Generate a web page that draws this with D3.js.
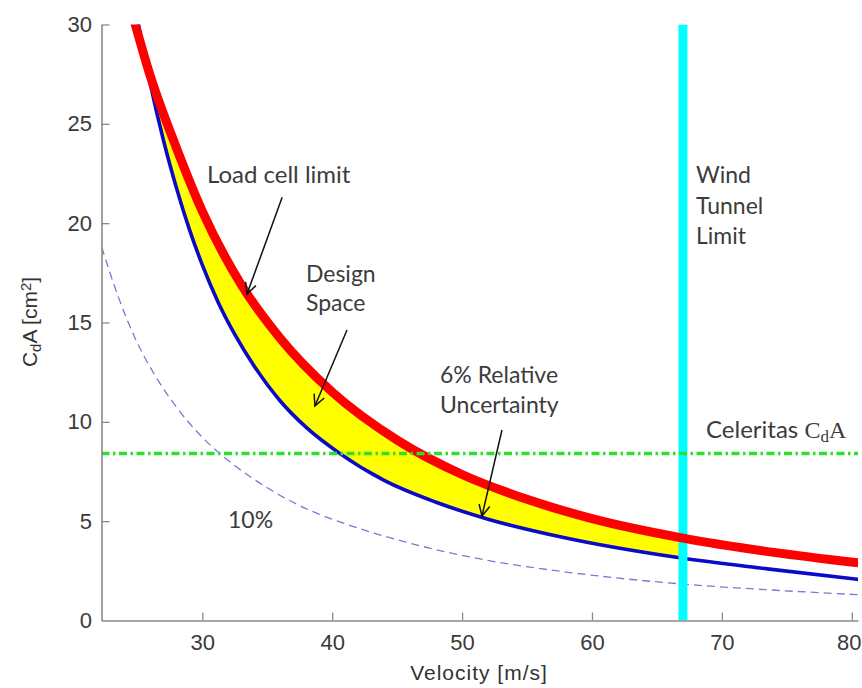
<!DOCTYPE html>
<html>
<head>
<meta charset="utf-8">
<script src="https://cdn.jsdelivr.net/npm/d3@7"></script>
<style>
  body { margin: 0; background: #fff; }
  svg { display: block; }
</style>
</head>
<body>
<svg id="chart" width="862" height="688"></svg>
<script>
// Axis ticks
const velocityTicks = [30, 40, 50, 60, 70, 80];
const cdaTicks = [0, 5, 10, 15, 20, 25, 30];

// Load cell limit (upper edge of the design space)
const loadCellVelocity = [24.5, 26, 28, 30, 33, 36, 40, 45, 50, 55, 60, 67, 74, 80.5];
const loadCellCdA      = [30.8, 27.4, 23.8, 20.6, 16.9, 14.2, 11.5, 9.08, 7.35, 6.1, 5.13, 4.15, 3.43, 2.9];

// 6% relative uncertainty (lower edge of the design space)
const unc6Velocity = [25.0, 26.0, 27.0, 28.0, 29.0, 30.0, 31.2, 32.5, 34.0, 36.0, 38.0, 40.6, 44.0, 48.0, 52.0, 58.0, 66.5, 73.5, 80.5];
const unc6CdA      = [30.3, 27.0, 24.2, 21.8, 19.7, 17.9, 16.05, 14.4, 12.8, 11.05, 9.72, 8.4, 7.05, 5.95, 5.1, 4.15, 3.18, 2.6, 2.07];

// 10% relative uncertainty
const unc10Velocity = [22.25, 23.5, 24.8, 26.3, 28.0, 30.0, 32.4, 35.0, 37.5, 41.4, 45.2, 51.6, 58.0, 66.5, 73.7, 80.5];
const unc10CdA      = [18.8, 16.35, 14.25, 12.4, 10.75, 9.22, 7.85, 6.68, 5.78, 4.78, 4.03, 3.07, 2.44, 1.86, 1.54, 1.3];

// Limits
const windTunnelLimit = 67;   // m/s
const celeritasCdA = 8.4;     // cm^2

const svg = d3.select("#chart");
const W = 862, H = 688;
svg.append("rect").attr("width", W).attr("height", H).attr("fill", "#fff");

const x = d3.scaleLinear().domain([22.24, 80.48]).range([101.5, 858]);
const y = d3.scaleLinear().domain([0, 30]).range([620.5, 24.5]);

const zip = (vs, cs) => vs.map((v, i) => ({ v, c: cs[i] }));
const loadCell = zip(loadCellVelocity, loadCellCdA);
const unc6 = zip(unc6Velocity, unc6CdA);
const unc10 = zip(unc10Velocity, unc10CdA);

const defs = svg.append("defs");
defs.append("clipPath").attr("id", "plotClip")
  .append("rect")
  .attr("x", x.range()[0]).attr("y", y.range()[1])
  .attr("width", x.range()[1] - x.range()[0])
  .attr("height", y.range()[0] - y.range()[1]);

// region above the 6% curve
defs.append("clipPath").attr("id", "aboveUnc6")
  .append("path")
  .attr("d", d3.area()
    .x(d => x(d.v)).y0(d => y(d.c)).y1(y(30) - 20)
    .curve(d3.curveMonotoneX)(unc6));

// region left of the wind tunnel limit
defs.append("clipPath").attr("id", "belowTunnel")
  .append("rect")
  .attr("x", x.range()[0]).attr("y", 0)
  .attr("width", x(windTunnelLimit) - x.range()[0])
  .attr("height", H);

defs.append("marker")
  .attr("id", "arrowHead")
  .attr("viewBox", "0 0 14 14")
  .attr("refX", 12).attr("refY", 7)
  .attr("markerWidth", 14).attr("markerHeight", 14)
  .attr("markerUnits", "userSpaceOnUse")
  .attr("orient", "auto")
  .append("path")
  .attr("d", "M1,1.5 L12,7 L1,12.5")
  .attr("fill", "none").attr("stroke", "#111").attr("stroke-width", 1.5);

const plot = svg.append("g").attr("clip-path", "url(#plotClip)");

const line = d3.line().x(d => x(d.v)).y(d => y(d.c)).curve(d3.curveMonotoneX);

// Design space fill
plot.append("g").attr("clip-path", "url(#belowTunnel)")
  .append("path")
  .attr("clip-path", "url(#aboveUnc6)")
  .attr("d", d3.area().x(d => x(d.v)).y0(y(0)).y1(d => y(d.c)).curve(d3.curveMonotoneX)(loadCell))
  .attr("fill", "#ffff00");

// 10% uncertainty (dashed)
plot.append("path")
  .attr("d", line(unc10))
  .attr("fill", "none")
  .attr("stroke", "#7a7ad0")
  .attr("stroke-width", 1.3)
  .attr("stroke-dasharray", "8,5");

// 6% uncertainty
plot.append("path")
  .attr("d", line(unc6))
  .attr("fill", "none")
  .attr("stroke", "#0a0ac8")
  .attr("stroke-width", 3.6);

// Wind tunnel limit
plot.append("line")
  .attr("x1", x(windTunnelLimit)).attr("x2", x(windTunnelLimit))
  .attr("y1", y(30)).attr("y2", y(0))
  .attr("stroke", "#00ffff").attr("stroke-width", 9);

// Load cell limit
plot.append("path")
  .attr("d", line(loadCell))
  .attr("fill", "none")
  .attr("stroke", "#ff0000")
  .attr("stroke-width", 9);

// Celeritas CdA
plot.append("line")
  .attr("x1", x.range()[0]).attr("x2", x.range()[1])
  .attr("y1", y(celeritasCdA)).attr("y2", y(celeritasCdA))
  .attr("stroke", "#2ee02e").attr("stroke-width", 3.5)
  .attr("stroke-dasharray", "8,3.5,2.5,3.5");

// Axes
const tickFont = "'Liberation Sans', Arial, sans-serif";
const xAxis = svg.append("g")
  .attr("transform", `translate(0,${y(0)})`)
  .call(d3.axisBottom(x).tickValues(velocityTicks).tickSizeInner(-8).tickSizeOuter(0).tickPadding(14));
const yAxis = svg.append("g")
  .attr("transform", `translate(${x.range()[0]},0)`)
  .call(d3.axisLeft(y).tickValues(cdaTicks).tickSizeInner(-8).tickSizeOuter(0).tickPadding(9.5));
[xAxis, yAxis].forEach(a => {
  a.select(".domain").attr("stroke", "#8a8a8a").attr("stroke-width", 1.6);
  a.selectAll(".tick line").attr("stroke", "#8a8a8a").attr("stroke-width", 1.3);
  a.selectAll(".tick text").attr("fill", "#3a3a3a").style("font-family", tickFont).style("font-size", "22px");
});
yAxis.selectAll(".tick").filter(d => d === 0).select("line").remove();
// keep the last velocity label inside the frame
xAxis.selectAll(".tick").filter(d => d === 80).select("text").attr("dx", -3);

// Axis labels
svg.append("text")
  .attr("x", 479).attr("y", 680)
  .attr("text-anchor", "middle")
  .attr("fill", "#333")
  .style("font-family", tickFont).style("font-size", "21px")
  .style("letter-spacing", "1px")
  .text("Velocity [m/s]");

const yl = svg.append("text")
  .attr("transform", "translate(37,322) rotate(-90)")
  .attr("text-anchor", "middle")
  .attr("fill", "#333")
  .style("font-family", tickFont).style("font-size", "21px");
yl.append("tspan").text("C");
yl.append("tspan").attr("baseline-shift", "-25%").style("font-size", "15px").text("d");
yl.append("tspan").text("A [cm");
yl.append("tspan").attr("baseline-shift", "40%").style("font-size", "15px").text("2");
yl.append("tspan").text("]");

// Annotations
const noteFont = "Lato, 'Open Sans', sans-serif";
const notes = [
  { v: 30.36, c: 22.04, t: "Load cell limit", s: 24 },
  { v: 37.98, c: 17.05, t: "Design", s: 23 },
  { v: 37.98, c: 15.58, t: "Space", s: 23 },
  { v: 48.30, c: 11.97, t: "6% Relative", s: 23 },
  { v: 48.30, c: 10.46, t: "Uncertainty", s: 23 },
  { v: 31.98, c: 4.66, t: "10%", s: 23 },
  { v: 68.01, c: 22.03, t: "Wind", s: 23 },
  { v: 68.01, c: 20.44, t: "Tunnel", s: 23 },
  { v: 68.01, c: 18.93, t: "Limit", s: 23 }
];
svg.selectAll("text.note").data(notes).join("text")
  .attr("class", "note")
  .attr("x", d => x(d.v)).attr("y", d => y(d.c))
  .attr("fill", "#3c3c3c")
  .style("font-family", noteFont).style("font-size", d => d.s + "px")
  .text(d => d.t);

const cel = svg.append("text")
  .attr("x", x(68.78)).attr("y", y(9.18))
  .attr("fill", "#3c3c3c")
  .style("font-family", noteFont).style("font-size", "24px");
cel.append("tspan").text("Celeritas ");
cel.append("tspan").style("font-family", "'Liberation Serif', serif").text("C");
cel.append("tspan").style("font-family", "'Liberation Serif', serif").style("font-size", "17px")
  .attr("baseline-shift", "-25%").text("d");
cel.append("tspan").style("font-family", "'Liberation Serif', serif").text("A");

const arrows = [
  { v1: 36.15, c1: 21.3, v2: 33.44, c2: 16.43 },
  { v1: 41.14, c1: 14.62, v2: 38.67, c2: 10.8 },
  { v1: 53.07, c1: 9.59, v2: 51.53, c2: 5.26 }
];
svg.selectAll("line.arrow").data(arrows).join("line")
  .attr("class", "arrow")
  .attr("x1", d => x(d.v1)).attr("y1", d => y(d.c1))
  .attr("x2", d => x(d.v2)).attr("y2", d => y(d.c2))
  .attr("stroke", "#111").attr("stroke-width", 1.5)
  .attr("marker-end", "url(#arrowHead)");
</script>
</body>
</html>
